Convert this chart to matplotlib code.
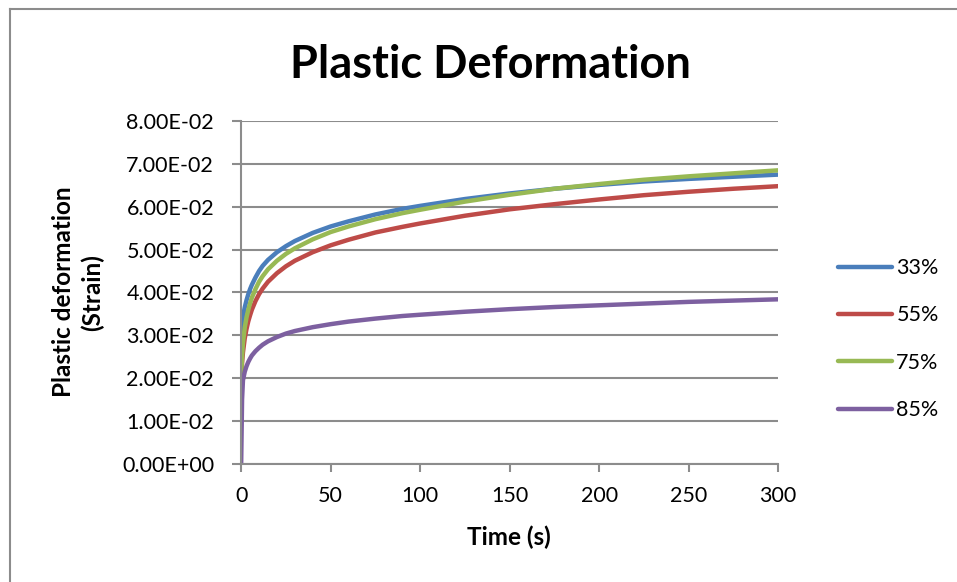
#!/usr/bin/env python3

# +
# import(s)
# -
import matplotlib as mpl
mpl.use('Agg')
import matplotlib.pyplot as plt
from matplotlib.lines import Line2D


# +
# data
# -
time_s = [0, 0.5, 1, 2, 3, 4, 5, 6, 8, 10, 12, 15, 20, 25, 30, 40, 50, 60, 75, 90,
          100, 125, 150, 175, 200, 225, 250, 275, 300]
strain_33 = [0.0300, 0.0325, 0.0343, 0.0365, 0.0382, 0.0396, 0.0408, 0.0418, 0.0435, 0.0450,
             0.0462, 0.0476, 0.0494, 0.0508, 0.0520, 0.0539, 0.0554, 0.0566, 0.0582, 0.0595,
             0.0602, 0.0618, 0.0631, 0.0642, 0.0651, 0.0659, 0.0665, 0.0670, 0.0675]
strain_55 = [0.0200, 0.0235, 0.0260, 0.0293, 0.0315, 0.0333, 0.0347, 0.0360, 0.0380, 0.0396,
             0.0409, 0.0425, 0.0445, 0.0461, 0.0474, 0.0494, 0.0510, 0.0523, 0.0540, 0.0553,
             0.0561, 0.0579, 0.0594, 0.0606, 0.0617, 0.0627, 0.0635, 0.0642, 0.0648]
strain_75 = [0.0200, 0.0250, 0.0282, 0.0318, 0.0342, 0.0360, 0.0375, 0.0388, 0.0408, 0.0425,
             0.0438, 0.0454, 0.0474, 0.0490, 0.0503, 0.0524, 0.0541, 0.0554, 0.0571, 0.0585,
             0.0593, 0.0612, 0.0628, 0.0642, 0.0653, 0.0663, 0.0671, 0.0678, 0.0685]
strain_85 = [0.0000, 0.0150, 0.0195, 0.0215, 0.0228, 0.0238, 0.0246, 0.0253, 0.0263, 0.0271,
             0.0278, 0.0286, 0.0296, 0.0304, 0.0310, 0.0319, 0.0326, 0.0332, 0.0339, 0.0345,
             0.0348, 0.0355, 0.0361, 0.0366, 0.0370, 0.0374, 0.0378, 0.0381, 0.0384]
series_names = ['33%', '55%', '75%', '85%']
series_colors = ['#4a7ebb', '#be4b48', '#98b954', '#7d60a0']
y_ticks = [0.00, 0.01, 0.02, 0.03, 0.04, 0.05, 0.06, 0.07, 0.08]
x_ticks = [0, 50, 100, 150, 200, 250, 300]

plt.rcParams['font.family'] = ['Lato', 'DejaVu Sans']
GRAY = '#8c8c8c'
FS = 15.5

# +
# plot
# -
fig = plt.figure(figsize=(9.57, 5.82), dpi=100)
ax = fig.add_axes([0.252, 0.203, 0.561, 0.589])

for _y, _n, _c in zip([strain_33, strain_55, strain_75, strain_85], series_names, series_colors):
    ax.plot(time_s, _y, color=_c, lw=3.2, label=_n, solid_capstyle='round')

ax.set_xlim(0, 300)
ax.set_ylim(0, 0.08)
ax.set_xticks(x_ticks)
ax.set_yticks(y_ticks)
ax.set_yticklabels([f"{_v:.2E}" for _v in y_ticks])
ax.tick_params(axis='both', labelsize=FS, color=GRAY, width=1.5)
ax.tick_params(axis='y', length=6.5, pad=13)
ax.tick_params(axis='x', length=6, pad=10)
ax.grid(axis='y', color=GRAY, lw=1.5)
ax.set_axisbelow(True)
for _s in ['top', 'right']:
    ax.spines[_s].set_visible(False)
for _s in ['left', 'bottom']:
    ax.spines[_s].set_color(GRAY)
    ax.spines[_s].set_linewidth(1.5)

# label(s), title
fig.text(0.532, 0.077, 'Time (s)', fontsize=17.5, fontweight='bold', ha='center', va='center')
fig.text(0.0815, 0.498, 'Plastic deformation\n(Strain)', fontsize=17.5, fontweight='bold',
         ha='center', va='center', rotation=90, multialignment='center', linespacing=1.3)
fig.text(0.512, 0.866, 'Plastic Deformation', fontsize=32.5, fontweight='bold',
         ha='center', va='baseline')

ax.legend(loc='center left', bbox_to_anchor=(1.112, 0.364), frameon=False, fontsize=FS,
          handlelength=2.5, handletextpad=0.2, labelspacing=1.27,
          borderpad=0, borderaxespad=0)

# outer chart border (only top and left edges are inside the picture)
fig.add_artist(Line2D([10 / 957, 1.0], [1 - 9 / 582, 1 - 9 / 582], transform=fig.transFigure,
                      color=GRAY, lw=1.5))
fig.add_artist(Line2D([10 / 957, 10 / 957], [0.0, 1 - 9 / 582], transform=fig.transFigure,
                      color=GRAY, lw=1.5))

plt.savefig('out.png', dpi=100)
